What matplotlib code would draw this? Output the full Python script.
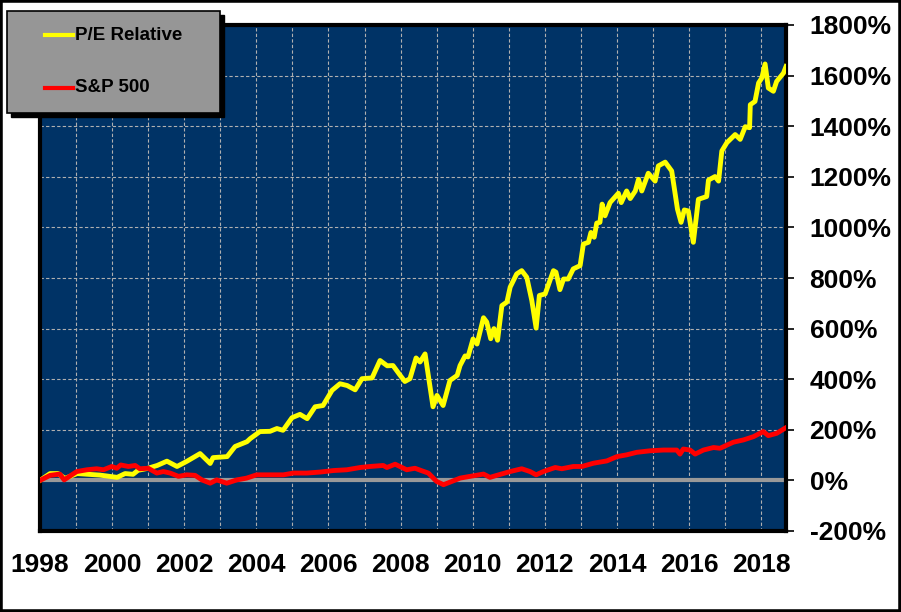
import matplotlib
matplotlib.use("Agg")
import matplotlib.pyplot as plt
from matplotlib.patches import Rectangle
from matplotlib.lines import Line2D
from matplotlib.ticker import MultipleLocator, FuncFormatter

# values (decimal year, cumulative % return)
pe_years = [1998.00, 1998.28, 1998.50, 1998.69, 1999.03, 1999.66, 2000.14, 2000.36, 2000.58, 2000.72,
            2000.97, 2001.25, 2001.52, 2001.80, 2002.08, 2002.44, 2002.72, 2002.80, 2003.19, 2003.41,
            2003.74, 2003.83, 2004.10, 2004.38, 2004.57, 2004.74, 2004.99, 2005.21, 2005.41, 2005.63,
            2005.85, 2006.10, 2006.32, 2006.52, 2006.74, 2006.93, 2007.21, 2007.43, 2007.63, 2007.79,
            2007.99, 2008.12, 2008.26, 2008.43, 2008.54, 2008.68, 2008.90, 2009.01, 2009.18, 2009.37,
            2009.57, 2009.65, 2009.79, 2009.87, 2010.01, 2010.12, 2010.30, 2010.39, 2010.50, 2010.59,
            2010.69, 2010.81, 2010.95, 2011.04, 2011.22, 2011.36, 2011.50, 2011.64, 2011.76, 2011.85,
            2012.01, 2012.24, 2012.31, 2012.42, 2012.52, 2012.65, 2012.79, 2012.98, 2013.07, 2013.21,
            2013.28, 2013.37, 2013.44, 2013.53, 2013.59, 2013.67, 2013.81, 2014.04, 2014.12, 2014.27,
            2014.37, 2014.51, 2014.60, 2014.69, 2014.87, 2015.06, 2015.15, 2015.34, 2015.52, 2015.68,
            2015.78, 2015.87, 2015.98, 2016.12, 2016.26, 2016.49, 2016.54, 2016.72, 2016.82, 2016.91,
            2017.05, 2017.28, 2017.42, 2017.56, 2017.68, 2017.70, 2017.83, 2017.93, 2018.02, 2018.11,
            2018.20, 2018.34, 2018.43, 2018.62, 2018.69]
pe_values = [0, 27, 27, 8, 27, 21, 12, 27, 24, 40,
             47, 59, 76, 55, 76, 106, 67, 90, 94, 134,
             153, 165, 193, 194, 205, 198, 248, 261, 244, 291,
             296, 356, 382, 375, 358, 402, 405, 474, 453, 454,
             415, 391, 402, 484, 468, 500, 291, 336, 296, 395,
             415, 454, 492, 488, 559, 539, 643, 626, 560, 600,
             554, 691, 705, 764, 816, 829, 803, 711, 602, 731,
             737, 829, 823, 754, 796, 796, 836, 849, 934, 941,
             980, 961, 1017, 1020, 1092, 1046, 1098, 1135, 1098, 1144,
             1114, 1144, 1190, 1144, 1214, 1183, 1243, 1258, 1223, 1072,
             1020, 1069, 1065, 941, 1111, 1122, 1187, 1201, 1183, 1302,
             1335, 1367, 1348, 1398, 1394, 1485, 1498, 1571, 1591, 1646,
             1551, 1538, 1577, 1610, 1636]

sp_years = [1998.00, 1998.28, 1998.55, 1998.67, 1999.02, 1999.30, 1999.57, 1999.76, 1999.99, 2000.13,
            2000.24, 2000.45, 2000.64, 2000.77, 2001.00, 2001.24, 2001.42, 2001.61, 2001.84, 2002.07,
            2002.30, 2002.49, 2002.72, 2002.90, 2003.18, 2003.46, 2003.73, 2004.01, 2004.38, 2004.75,
            2005.03, 2005.40, 2005.77, 2006.14, 2006.51, 2006.88, 2007.15, 2007.52, 2007.62, 2007.85,
            2008.17, 2008.40, 2008.59, 2008.77, 2009.00, 2009.19, 2009.37, 2009.65, 2009.93, 2010.30,
            2010.48, 2010.67, 2011.04, 2011.36, 2011.59, 2011.76, 2011.96, 2012.29, 2012.47, 2012.79,
            2013.03, 2013.35, 2013.72, 2014.00, 2014.27, 2014.55, 2014.92, 2015.29, 2015.66, 2015.75,
            2015.84, 2016.03, 2016.17, 2016.40, 2016.68, 2016.86, 2017.23, 2017.51, 2017.79, 2018.06,
            2018.20, 2018.43, 2018.66]
sp_values = [0, 20, 25, 2, 35, 42, 46, 42, 55, 48,
             61, 55, 59, 46, 48, 29, 35, 29, 16, 22,
             20, 2, -11, 2, -11, 2, 9, 22, 22, 22,
             29, 29, 33, 39, 42, 51, 55, 59, 51, 64,
             42, 48, 38, 29, -4, -17, -7, 9, 16, 25,
             12, 20, 35, 46, 35, 22, 35, 51, 46, 55,
             55, 68, 77, 94, 101, 111, 117, 120, 120, 104,
             124, 120, 104, 120, 130, 127, 151, 160, 173, 193,
             177, 186, 206]

series_names = ["P/E Relative", "S&P 500"]
series_colors = ["#FFFF00", "#FF0000"]

plt.rcParams['font.family'] = ['Liberation Sans', 'DejaVu Sans']
plt.rcParams['font.weight'] = 'bold'

fig = plt.figure(figsize=(9.01, 6.12), dpi=100)
ax = fig.add_axes([40/901, 1 - 531/612, 746/901, 506/612])
ax.set_facecolor("#003366")

ax.axhline(0, color="#999999", lw=3, zorder=2)
ax.plot(pe_years, pe_values, color=series_colors[0], lw=3.5, zorder=3)
ax.plot(sp_years, sp_values, color=series_colors[1], lw=3.5, zorder=4)

ax.set_xlim(1998, 2018.69)
ax.set_ylim(-200, 1800)
ax.xaxis.set_major_locator(MultipleLocator(2))
ax.xaxis.set_minor_locator(MultipleLocator(1))
ax.xaxis.set_major_formatter(FuncFormatter(lambda v, p: "%d" % v))
ax.yaxis.set_major_locator(MultipleLocator(200))
ax.yaxis.set_major_formatter(FuncFormatter(lambda v, p: "%d%%" % v))
ax.yaxis.tick_right()

ax.grid(True, which="both", color="#B0B0B0", lw=0.8, linestyle=(0, (3, 2)))
ax.set_axisbelow(True)
ax.tick_params(axis="x", which="both", length=0, pad=16, labelsize=19)
ax.tick_params(axis="y", length=6, width=1.2, pad=11, labelsize=19)
for sp in ax.spines.values():
    sp.set_linewidth(3)
    sp.set_color("black")

# legend box with drop shadow, drawn in figure pixels
W, H = 901, 612
fig.patches.append(Rectangle((11/W, 1 - 117/H), 213/W, 102/H, transform=fig.transFigure,
                             facecolor="black", edgecolor="black", zorder=5))
fig.patches.append(Rectangle((7/W, 1 - 113/H), 213/W, 102/H, transform=fig.transFigure,
                             facecolor="#969696", edgecolor="black", lw=1.2, zorder=6))
for i, (name, col) in enumerate(zip(series_names, series_colors)):
    yy = 1 - (35 + 53 * i) / H
    fig.lines.append(Line2D([45/W, 73/W], [yy, yy], transform=fig.transFigure,
                            color=col, lw=3, zorder=7))
    fig.text(75/W, yy, name, fontsize=13.5, fontweight="bold", va="center", ha="left", zorder=8)

# outer black border
fig.patches.append(Rectangle((0, 0), 1, 1, transform=fig.transFigure, fill=False,
                             edgecolor="black", lw=4, zorder=10))

fig.savefig("out.png", dpi=100)
